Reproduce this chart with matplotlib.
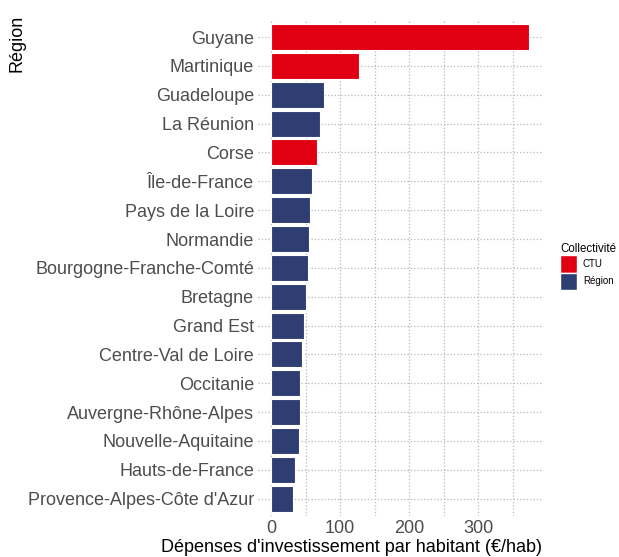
import matplotlib.pyplot as plt
from matplotlib.patches import Patch

plt.rcParams['font.family'] = ['Liberation Sans', 'DejaVu Sans']

regions = ["Guyane", "Martinique", "Guadeloupe", "La Réunion", "Corse",
           "Île-de-France", "Pays de la Loire", "Normandie",
           "Bourgogne-Franche-Comté", "Bretagne", "Grand Est",
           "Centre-Val de Loire", "Occitanie", "Auvergne-Rhône-Alpes",
           "Nouvelle-Aquitaine", "Hauts-de-France",
           "Provence-Alpes-Côte d'Azur"]
depenses = [374, 128, 77, 71.5, 66, 59.5, 56.5, 55, 54, 50, 47.5, 45.5,
            42, 42, 41, 34.5, 32.5]
collectivite = ["CTU", "CTU", "Région", "Région", "CTU"] + ["Région"] * 12

colors = {"CTU": "#E10012", "Région": "#2E3D72"}

fig = plt.figure(figsize=(6.19, 5.57), dpi=100)
ax = fig.add_axes([0.417, 0.0736, 0.459, 0.891])

n = len(regions)
ypos = list(range(n, 0, -1))
ax.barh(ypos, depenses, height=0.9,
        color=[colors[c] for c in collectivite],
        edgecolor="white", linewidth=0.8, zorder=3)

xmax = max(depenses)
ax.set_xlim(-0.05 * xmax, 1.05 * xmax)
ax.set_ylim(0.4, n + 0.6)
ax.set_yticks(ypos)
ax.set_yticklabels(regions)
ax.set_xticks([0, 100, 200, 300])
ax.set_xticks([50, 150, 250, 350], minor=True)

ax.grid(True, which="both", axis="x", linestyle=":", color="#B8B8B8",
        linewidth=0.9, zorder=0)
ax.grid(True, which="major", axis="y", linestyle=":", color="#B8B8B8",
        linewidth=0.9, zorder=0)

for s in ax.spines.values():
    s.set_visible(False)
ax.tick_params(which="both", length=0, pad=3)
ax.tick_params(axis="both", labelsize=13, labelcolor="#4D4D4D")

# axis titles placed by hand, like the reference
fig.text(542 / 619, 1 - 548 / 557, "Dépenses d'investissement par habitant (€/hab)",
         fontsize=13, color="black", ha="right", va="center")
fig.text(17 / 619, 1 - 43 / 557, "Région", fontsize=13, color="black",
         rotation=90, ha="center", va="center")

handles = [Patch(facecolor=colors[k], edgecolor="white", label=k)
           for k in ["CTU", "Région"]]
leg = fig.legend(handles=handles, title="Collectivité",
                 loc="upper left", bbox_to_anchor=(560 / 619, 1 - 243 / 557),
                 frameon=False, fontsize=7, title_fontsize=8.3,
                 handlelength=1.75, handleheight=2.4, handletextpad=0.6,
                 labelspacing=0.0, borderpad=0, borderaxespad=0)
leg._legend_box.align = "left"

fig.savefig("out.png", dpi=100)
